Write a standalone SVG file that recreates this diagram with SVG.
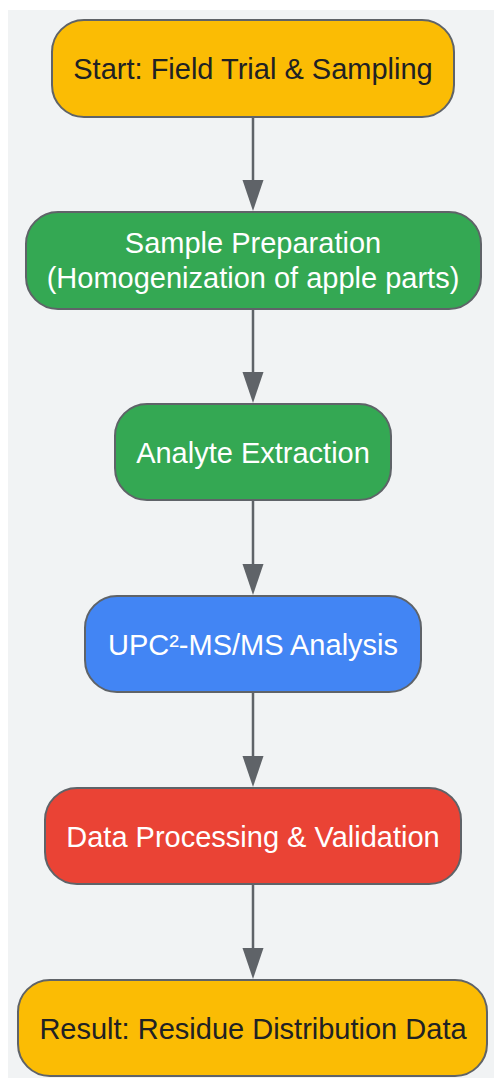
<svg xmlns="http://www.w3.org/2000/svg" width="494" height="1078" viewBox="0 0 494 1078">
<style>
.node{stroke:#5f6368;stroke-width:2}
.t{font-family:"Liberation Sans",Arial,sans-serif;font-size:29px;text-anchor:middle;dominant-baseline:central}
.dark{fill:#202124}
.light{fill:#ffffff}
.edge{stroke:#5f6368;stroke-width:2.5;fill:none}
.head{fill:#5f6368}
</style>
<rect x="8" y="10" width="486" height="1068" fill="#f1f3f4"/>
<g id="connectors">
<line class="edge" x1="253" y1="117" x2="253" y2="180"/><path class="head" d="M242.5,180 L263.5,180 L253,211 Z"/>
<line class="edge" x1="253" y1="309" x2="253" y2="372"/><path class="head" d="M242.5,372 L263.5,372 L253,403 Z"/>
<line class="edge" x1="253" y1="500" x2="253" y2="564"/><path class="head" d="M242.5,564 L263.5,564 L253,595 Z"/>
<line class="edge" x1="253" y1="692" x2="253" y2="756"/><path class="head" d="M242.5,756 L263.5,756 L253,787 Z"/>
<line class="edge" x1="253" y1="884" x2="253" y2="948"/><path class="head" d="M242.5,948 L263.5,948 L253,979 Z"/>
</g>
<g id="start">
<rect class="node" x="52" y="20" width="402" height="97" rx="32" fill="#fbbc04"/>
<text class="t dark" x="253" y="69">Start: Field Trial &amp; Sampling</text>
</g>
<g id="prep">
<rect class="node" x="26" y="212" width="455" height="97" rx="32" fill="#34a853"/>
<text class="t light" x="253" y="243">Sample Preparation</text>
<text class="t light" x="253" y="278">(Homogenization of apple parts)</text>
</g>
<g id="extract">
<rect class="node" x="115" y="404" width="276" height="96" rx="32" fill="#34a853"/>
<text class="t light" x="253" y="453">Analyte Extraction</text>
</g>
<g id="analysis">
<rect class="node" x="85" y="596" width="336" height="96" rx="32" fill="#4285f4"/>
<text class="t light" x="253" y="645">UPC²-MS/MS Analysis</text>
</g>
<g id="process">
<rect class="node" x="45" y="788" width="416" height="96" rx="32" fill="#ea4335"/>
<text class="t light" x="253" y="837">Data Processing &amp; Validation</text>
</g>
<g id="result">
<rect class="node" x="18" y="980" width="469" height="96" rx="32" fill="#fbbc04"/>
<text class="t dark" x="253" y="1029">Result: Residue Distribution Data</text>
</g>
</svg>
